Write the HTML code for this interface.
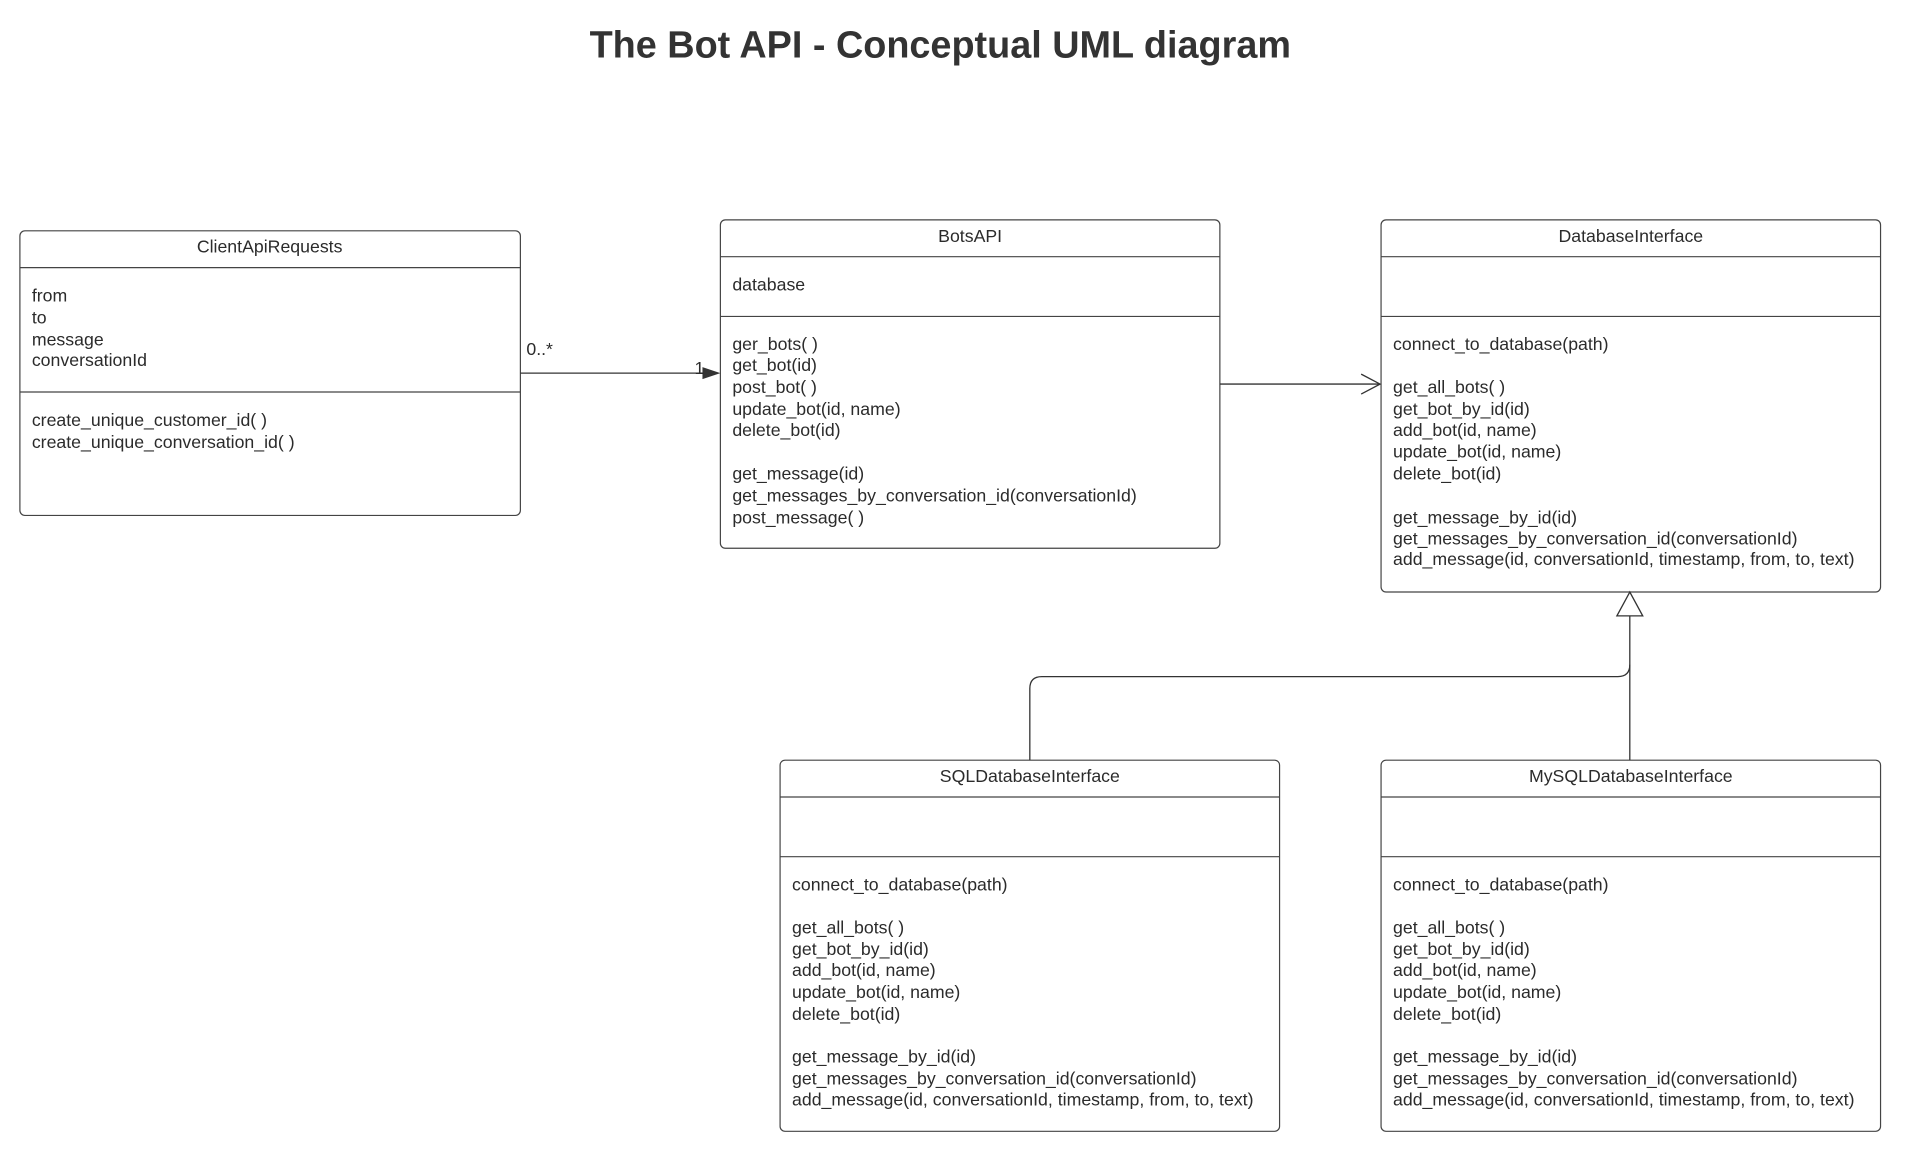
<!DOCTYPE html>
<html><head><meta charset="utf-8"><style>
html,body{margin:0;padding:0;background:#fff;}
svg{display:block;}
text{font-family:"Liberation Sans",Arial,sans-serif;fill:#2b2b2b;font-size:17.8px;}
.t{font-size:38px;font-weight:bold;fill:#333;}
.h{text-anchor:middle;}
</style></head><body>
<svg width="1907" height="1152" viewBox="0 0 1907 1152" xmlns="http://www.w3.org/2000/svg">
<g transform="scale(0.995)">
<text class="t" x="945" y="58" text-anchor="middle">The Bot API - Conceptual UML diagram</text>
<g fill="#fff" stroke="#444" stroke-width="1.2">
<rect x="20" y="232" width="503" height="286" rx="5"/>
<rect x="724" y="221" width="502" height="330" rx="5"/>
<rect x="1388" y="221" width="502" height="374" rx="5"/>
<rect x="784" y="764" width="502" height="373" rx="5"/>
<rect x="1388" y="764" width="502" height="373" rx="5"/>
</g>
<g stroke="#444" stroke-width="1.2">
<line x1="20" y1="269" x2="523" y2="269"/><line x1="20" y1="394" x2="523" y2="394"/>
<line x1="724" y1="258" x2="1226" y2="258"/><line x1="724" y1="318" x2="1226" y2="318"/>
<line x1="1388" y1="258" x2="1890" y2="258"/><line x1="1388" y1="318" x2="1890" y2="318"/>
<line x1="784" y1="801" x2="1286" y2="801"/><line x1="784" y1="861" x2="1286" y2="861"/>
<line x1="1388" y1="801" x2="1890" y2="801"/><line x1="1388" y1="861" x2="1890" y2="861"/>
</g>
<g fill="none" stroke="#333" stroke-width="1.3">
<line x1="523" y1="375" x2="708" y2="375"/>
<line x1="1226" y1="386" x2="1386" y2="386"/>
<polyline points="1368,376 1387,386 1368,396"/>
<line x1="1638" y1="619" x2="1638" y2="764"/>
<path d="M1035,764 V692 Q1035,680 1047,680 H1626 Q1638,680 1638,668"/>
</g>
<polygon points="706,369 724,375 706,381" fill="#333"/>
<polygon points="1638,595 1625,619 1651,619" fill="#fff" stroke="#333" stroke-width="1.3"/>
<text x="529" y="357">0..*</text>
<text x="698" y="376">1</text>
<text class="h" x="271" y="254">ClientApiRequests</text>
<text class="h" x="975" y="243">BotsAPI</text>
<text class="h" x="1639" y="243">DatabaseInterface</text>
<text class="h" x="1035" y="786">SQLDatabaseInterface</text>
<text class="h" x="1639" y="786">MySQLDatabaseInterface</text>
<g>
<text x="32" y="303">from</text><text x="32" y="325">to</text><text x="32" y="347">message</text><text x="32" y="368">conversationId</text>
<text x="32" y="428">create_unique_customer_id( )</text><text x="32" y="450">create_unique_conversation_id( )</text>
</g>
<g>
<text x="736" y="292">database</text>
<text x="736" y="352">ger_bots( )</text><text x="736" y="373">get_bot(id)</text><text x="736" y="395">post_bot( )</text><text x="736" y="417">update_bot(id, name)</text><text x="736" y="438">delete_bot(id)</text>
<text x="736" y="482">get_message(id)</text><text x="736" y="504">get_messages_by_conversation_id(conversationId)</text><text x="736" y="526">post_message( )</text>
</g>
<g>
<text x="1400" y="352">connect_to_database(path)</text>
<text x="1400" y="395">get_all_bots( )</text><text x="1400" y="417">get_bot_by_id(id)</text><text x="1400" y="438">add_bot(id, name)</text><text x="1400" y="460">update_bot(id, name)</text><text x="1400" y="482">delete_bot(id)</text>
<text x="1400" y="526">get_message_by_id(id)</text><text x="1400" y="547">get_messages_by_conversation_id(conversationId)</text><text x="1400" y="568">add_message(id, conversationId, timestamp, from, to, text)</text>
</g>
<g>
<text x="796" y="895">connect_to_database(path)</text>
<text x="796" y="938">get_all_bots( )</text><text x="796" y="960">get_bot_by_id(id)</text><text x="796" y="981">add_bot(id, name)</text><text x="796" y="1003">update_bot(id, name)</text><text x="796" y="1025">delete_bot(id)</text>
<text x="796" y="1068">get_message_by_id(id)</text><text x="796" y="1090">get_messages_by_conversation_id(conversationId)</text><text x="796" y="1111">add_message(id, conversationId, timestamp, from, to, text)</text>
</g>
<g>
<text x="1400" y="895">connect_to_database(path)</text>
<text x="1400" y="938">get_all_bots( )</text><text x="1400" y="960">get_bot_by_id(id)</text><text x="1400" y="981">add_bot(id, name)</text><text x="1400" y="1003">update_bot(id, name)</text><text x="1400" y="1025">delete_bot(id)</text>
<text x="1400" y="1068">get_message_by_id(id)</text><text x="1400" y="1090">get_messages_by_conversation_id(conversationId)</text><text x="1400" y="1111">add_message(id, conversationId, timestamp, from, to, text)</text>
</g>
</g>
</svg>
</body></html>
